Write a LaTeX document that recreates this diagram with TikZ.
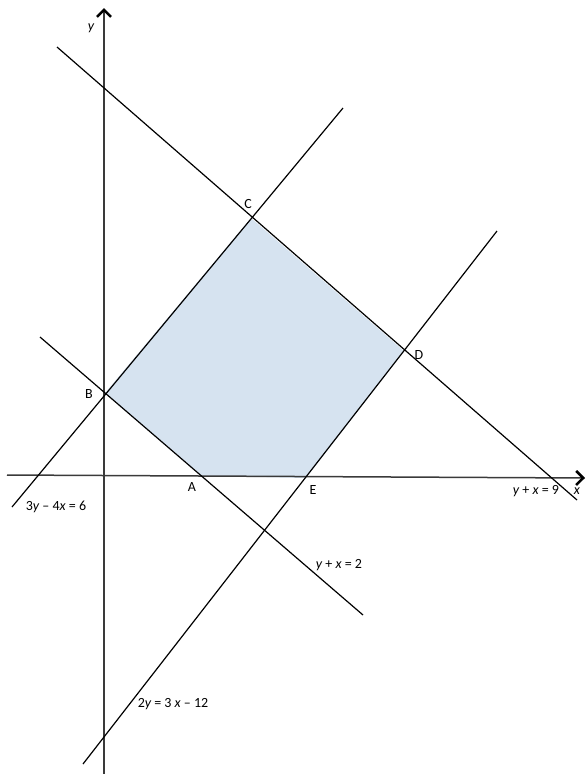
\documentclass[tikz,border=0pt]{standalone}
\usepackage{fontspec}
\setmainfont{Carlito}
\usetikzlibrary{arrows.meta}
\definecolor{regionfill}{HTML}{D6E3F0}
\definecolor{axisgray}{HTML}{3A3A3A}
\tikzset{
  lbl/.style={font=\fontsize{14}{16}\selectfont, inner sep=0pt},
  axisline/.style={draw=axisgray, line width=1.5pt, -{Straight Barb[length=7pt,width=14pt,line width=2.6pt,color=black]}},
  eqline/.style={draw=black, line width=1.2pt}
}
\begin{document}
\begin{tikzpicture}[x=1pt,y=-1pt]
\useasboundingbox (0,0) rectangle (586,774);
% points
\coordinate (A) at (202,476);
\coordinate (B) at (105,393);
\coordinate (C) at (251,218);
\coordinate (D) at (404,351);
\coordinate (E) at (306,478);
% region
\fill[regionfill] (A) -- (B) -- (C) -- (D) -- (E) -- cycle;
% axes
\coordinate (xs) at (7,475);
\coordinate (xe) at (585,478);
\coordinate (ys) at (104,774);
\coordinate (ye) at (104,8);
\draw[axisline] (xs) -- (xe);
\draw[axisline] (ys) -- (ye);
% lines
\coordinate (l1s) at (57,47);
\coordinate (l1e) at (577,500);
\coordinate (l2s) at (12,507);
\coordinate (l2e) at (343,108);
\coordinate (l3s) at (40,337);
\coordinate (l3e) at (363,615);
\coordinate (l4s) at (83,764);
\coordinate (l4e) at (497,231);
\draw[eqline] (l1s) -- (l1e);
\draw[eqline] (l2s) -- (l2e);
\draw[eqline] (l3s) -- (l3e);
\draw[eqline] (l4s) -- (l4e);
% labels
\node[lbl] (yl) at (91,28) {\itshape y};
\node[lbl] (xl) at (577,491) {\itshape x};
\node[lbl] (Cl) at (248,204) {C};
\node[lbl] (Dl) at (419,355) {D};
\node[lbl] (Bl) at (89,394) {B};
\node[lbl] (Al) at (192,487) {A};
\node[lbl] (El) at (313,490) {E};
\node[lbl] (q1) at (536,491) {{\itshape y} + {\itshape x} = 9};
\node[lbl] (q2) at (56,507) {3{\itshape y} – 4{\itshape x} = 6};
\node[lbl] (q3) at (339,565) {{\itshape y} + {\itshape x} = 2};
\node[lbl] (q4) at (173,704) {2{\itshape y} = 3 {\itshape x} – 12};
\end{tikzpicture}
\end{document}
